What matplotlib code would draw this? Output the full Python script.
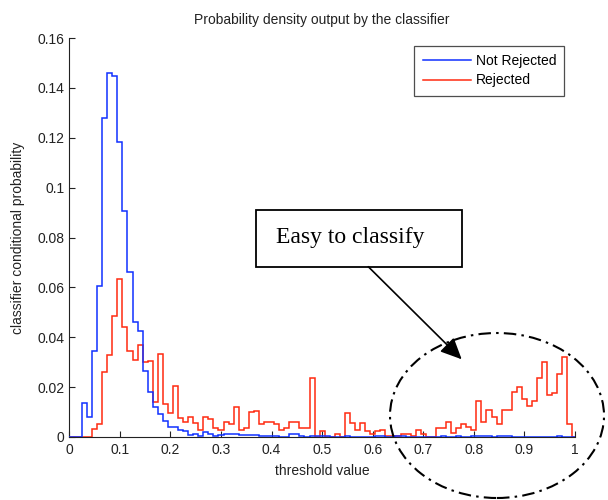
import numpy as np
import matplotlib
matplotlib.use("Agg")
import matplotlib.pyplot as plt
from matplotlib.patches import Rectangle, Ellipse, FancyArrowPatch
from matplotlib.lines import Line2D

plt.rcParams['font.family'] = ['Liberation Sans', 'DejaVu Sans']

title = "Probability density output by the classifier"
xlabel = "threshold value"
ylabel = "classifier conditional probability"
series_names = ["Not Rejected", "Rejected"]
annotation = "Easy to classify"

# histogram bin centres 0.00 ... 1.00 (step 0.01)
bin_centers = np.round(np.arange(101) * 0.01, 2)

not_rejected = [
    0, 0, 0, 0.0135, 0.0081, 0.0345, 0.0607, 0.1278, 0.1461, 0.1449,
    0.1184, 0.0906, 0.0663, 0.0462, 0.0426, 0.0266, 0.0179, 0.0119, 0.0092, 0.0065,
    0.0040, 0.0039, 0.0028, 0.0025, 0.0008, 0.0013, 0.0004, 0.0019, 0.0013, 0.0004,
    0.0008, 0.0012, 0.0012, 0.0012, 0.0008, 0.0008, 0.0008, 0.0008, 0.0004, 0.0004,
    0.0004, 0.0004, 0, 0, 0.0012, 0.0012, 0.0004, 0, 0.0004, 0.0004,
    0.0004, 0.0004, 0, 0, 0, 0.0004, 0, 0, 0, 0,
    0, 0.0004, 0.0004, 0, 0, 0.0004, 0.0004, 0, 0, 0,
    0, 0, 0, 0, 0.0004, 0, 0, 0.0004, 0, 0,
    0.0004, 0.0004, 0.0004, 0.0004, 0, 0.0004, 0.0004, 0.0004, 0, 0,
    0, 0, 0, 0, 0, 0, 0, 0.0004, 0, 0,
    0]

rejected = [
    0, 0, 0, 0, 0, 0.0032, 0.0052, 0.0259, 0.0329, 0.0485,
    0.0632, 0.0442, 0.0345, 0.0309, 0.0369, 0.0299, 0.0305, 0.0142, 0.0332, 0.0132,
    0.0097, 0.0205, 0.0075, 0.0061, 0.0081, 0.0057, 0.0028, 0.0081, 0.0072, 0.0037,
    0.0028, 0.0059, 0.0051, 0.0119, 0.0028, 0.0037, 0.0099, 0.0105, 0.0051, 0.0059,
    0.0059, 0.0051, 0.0028, 0.0037, 0.0059, 0.0059, 0.0036, 0.0036, 0.0235, 0,
    0.0025, 0, 0, 0.0011, 0, 0.0097, 0.0057, 0.0028, 0.0057, 0.0023,
    0.0012, 0.0025, 0.0028, 0.0005, 0.0005, 0.0005, 0.0012, 0.0012, 0.0004, 0.0028,
    0.0012, 0, 0, 0.0037, 0.0037, 0.0061, 0.0017, 0.0035, 0.0051, 0.0039,
    0.0028, 0.0144, 0.0061, 0.0107, 0.0081, 0.0051, 0.0107, 0.0107, 0.0182, 0.0202,
    0.0151, 0.0124, 0.0144, 0.0238, 0.0299, 0.0170, 0.0178, 0.0254, 0.0322, 0.0051,
    0]

xticks = [0, 0.1, 0.2, 0.3, 0.4, 0.5, 0.6, 0.7, 0.8, 0.9, 1]
xticklabels = ["0", "0.1", "0.2", "0.3", "0.4", "0.5", "0.6", "0.7", "0.8", "0.9", "1"]
yticks = [0, 0.02, 0.04, 0.06, 0.08, 0.10, 0.12, 0.14, 0.16]
yticklabels = ["0", "0.02", "0.04", "0.06", "0.08", "0.1", "0.12", "0.14", "0.16"]

BLUE = "#1030ff"
RED = "#ff2a10"

fig = plt.figure(figsize=(6.08, 5.00), dpi=100)
ax = fig.add_axes([0.114, 0.126, 0.8317, 0.798])

step = bin_centers[1] - bin_centers[0]
edges = np.append(bin_centers - step / 2, bin_centers[-1] + step / 2)

ax.stairs(rejected, edges, color=RED, linewidth=1.1, baseline=0, zorder=2,
          label=series_names[1])
ax.stairs(not_rejected, edges, color=BLUE, linewidth=1.1, baseline=0, zorder=3,
          label=series_names[0])

ax.set_xlim(0, 1)
ax.set_ylim(0, 0.16)
ax.set_xticks(xticks)
ax.set_xticklabels(xticklabels)
ax.set_yticks(yticks)
ax.set_yticklabels(yticklabels)
ax.tick_params(direction='in', length=4, width=0.8, labelsize=10, colors='#222222')
ax.tick_params(axis='x', pad=4.5)
ax.tick_params(axis='y', pad=3.5)
for s in ['top', 'right']:
    ax.spines[s].set_visible(False)
for s in ['left', 'bottom']:
    ax.spines[s].set_linewidth(0.8)
    ax.spines[s].set_color('#222222')

ax.set_title(title, fontsize=10, color='#222222', pad=10)
ax.set_xlabel(xlabel, fontsize=10, color='#222222')
ax.xaxis.set_label_coords(0.5, -0.085)
ax.xaxis.label.set_verticalalignment('center')
ax.set_ylabel(ylabel, fontsize=10, color='#222222')
ax.yaxis.set_label_coords(-0.101, 0.5)
ax.yaxis.label.set_verticalalignment('center')

handles = [Line2D([], [], color=BLUE, lw=1.1), Line2D([], [], color=RED, lw=1.1)]
leg = ax.legend(handles, series_names, loc='upper right', bbox_to_anchor=(0.979, 0.981),
                borderaxespad=0, fontsize=10, frameon=True, fancybox=False,
                edgecolor='#222222', handlelength=3.5, handletextpad=0.3,
                labelspacing=0.4, borderpad=0.6)
leg.get_frame().set_linewidth(0.9)

# annotation box
W, H = 608.0, 500.0
box = Rectangle((256 / W, 1 - 266.7 / H), (462.3 - 256) / W, (266.7 - 210) / H,
                transform=fig.transFigure, facecolor='white', edgecolor='black',
                linewidth=1.3, zorder=10)
fig.patches.append(box)
fig.text(276.5 / W, 1 - 237 / H, annotation, family=['Liberation Serif', 'DejaVu Serif'],
         fontsize=17, ha='left', va='center', zorder=11)

arrow = FancyArrowPatch((368.3 / W, 1 - 266.7 / H), (461.7 / W, 1 - 359.3 / H),
                        transform=fig.transFigure,
                        arrowstyle='-|>,head_length=13,head_width=6',
                        mutation_scale=1, shrinkA=0, shrinkB=0,
                        color='black', linewidth=1.2, zorder=10)
fig.patches.append(arrow)

ell = Ellipse((497 / W, 1 - 415.5 / H), 214 / W, 165 / H, transform=fig.transFigure,
              fill=False, edgecolor='black', linewidth=1.5,
              linestyle=(0, (6, 2.5, 1.2, 2.5)), zorder=10)
fig.patches.append(ell)

fig.savefig("out.png", dpi=100)
